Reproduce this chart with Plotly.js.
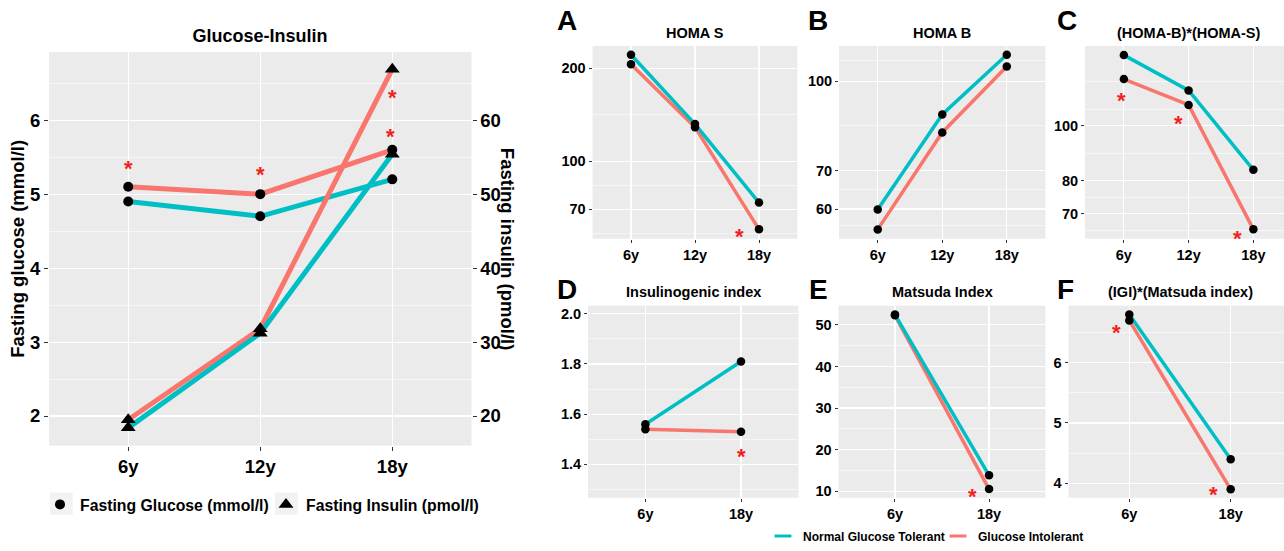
<!DOCTYPE html>
<html><head><meta charset="utf-8">
<script src="https://cdn.plot.ly/plotly-3.0.1.min.js"></script>
<style>html,body{margin:0;padding:0;background:#fff}#chart{width:1284px;height:551px}</style>
</head><body><div id="chart"></div>
<script>
// ---------- DATA ----------
const ages3 = ['6y', '12y', '18y'];
const ages2 = ['6y', '18y'];
const groups = ['Normal Glucose Tolerant', 'Glucose Intolerant'];
const measures = ['Fasting Glucose (mmol/l)', 'Fasting Insulin (pmol/l)'];

const glucoseNGT = [4.9, 4.7, 5.2];
const glucoseGI  = [5.1, 5.0, 5.6];
const insulinNGT = [18.4, 31.2, 55.4];
const insulinGI  = [19.5, 31.8, 66.9];

const homaS_NGT = [221, 132, 73.6];
const homaS_GI  = [206, 129, 60.3];
const homaB_NGT = [59.9, 87.6, 111.2];
const homaB_GI  = [55.3, 81.5, 106.1];
const homaBS_NGT = [133, 115.3, 83.6];
const homaBS_GI  = [120.7, 108.7, 65.7];
const igi_NGT = [1.56, 1.81];
const igi_GI  = [1.54, 1.53];
const matsuda_NGT = [52.5, 13.8];
const matsuda_GI  = [52.3, 10.5];
const igiMat_NGT = [6.80, 4.40];
const igiMat_GI  = [6.70, 3.90];

// significance asterisks (category, value)
const sigGlucoseAt = ['6y', '12y', '18y'];
const sigGlucoseY  = [5.41, 5.33, 5.85];
const sigInsulinAt = ['18y'];
const sigInsulinY  = [63.8];
const sigHomaSAt = ['18y'];          const sigHomaSY = [59.4];
const sigHomaBSAt = ['6y', '12y', '18y']; const sigHomaBSY = [113.1, 103.1, 64.6];
const sigIgiAt = ['18y'];            const sigIgiY = [1.45];
const sigMatsudaAt = ['18y'];        const sigMatsudaY = [9.8];
const sigIgiMatAt = ['6y', '18y'];   const sigIgiMatY = [6.58, 3.9];

// ---------- STYLE ----------
const W = 1284, H = 551;
const FONT = 'Liberation Sans, Arial, Helvetica, sans-serif';
const TEAL = '#00BFC4', RED = '#F8766D', STAR = '#EE2222', BG = '#EBEBEB';
const fx = p => p / W;
const fy = p => 1 - p / H;

const traces = [];
const annotations = [];
const layout = {
  width: W, height: H,
  margin: {l: 0, r: 0, t: 0, b: 0},
  paper_bgcolor: '#ffffff', plot_bgcolor: BG,
  font: {family: FONT, size: 14, color: '#000', weight: 'bold'},
  showlegend: true,
  title: {text: 'Glucose-Insulin', x: fx(260), xanchor: 'center', y: fy(36), yanchor: 'middle',
          font: {family: FONT, size: 18, color: '#000', weight: 'bold'}},
  shapes: [],
  annotations: annotations
};

function xAxis(dom, range, cats, fs, anchor) {
  return {domain: [fx(dom[0]), fx(dom[1])], range: range, type: 'category',
    categoryorder: 'array', categoryarray: cats, anchor: anchor,
    showgrid: true, gridcolor: '#ffffff', gridwidth: 1.1, zeroline: false, showline: false,
    ticks: 'outside', ticklen: fs > 15 ? 4 : 3, tickwidth: 1, tickcolor: '#333',
    tickfont: {family: FONT, size: fs, color: '#000', weight: 'bold'}, fixedrange: true};
}
function yAxis(dom, range, isLog, tickvals, minorvals, fs, anchor) {
  const a = {domain: [fy(dom[1]), fy(dom[0])], range: range, type: isLog ? 'log' : 'linear', anchor: anchor,
    tickmode: 'array', tickvals: tickvals, ticktext: tickvals.map(v => String(v)),
    showgrid: true, gridcolor: '#ffffff', gridwidth: 1.1, zeroline: false, showline: false,
    ticks: 'outside', ticklen: fs > 15 ? 4 : 3, tickwidth: 1, tickcolor: '#333',
    tickfont: {family: FONT, size: fs, color: '#000', weight: 'bold'}, fixedrange: true,
    minor: {tickmode: 'array', tickvals: minorvals, showgrid: true, gridcolor: '#ffffff', gridwidth: 0.55, ticks: ''}};
  return a;
}
function star(xref, yref, at, val, isLog, dx, fs) {
  annotations.push({xref: xref, yref: yref, x: at, y: isLog ? Math.log10(val) : val,
    text: '*', showarrow: false, xshift: dx, yshift: -5,
    font: {family: FONT, size: fs, color: STAR}});
}
function lineTrace(x, y, xa, ya, color, w) {
  traces.push({type: 'scatter', mode: 'lines', x: x, y: y, xaxis: xa, yaxis: ya,
    line: {color: color, width: w}, showlegend: false, hoverinfo: 'skip'});
}
function pointTrace(x, y, xa, ya, symbol, size) {
  traces.push({type: 'scatter', mode: 'markers', x: x, y: y, xaxis: xa, yaxis: ya,
    marker: {color: '#000', size: size, symbol: symbol}, showlegend: false, hoverinfo: 'skip'});
}

// ---------- MAIN PANEL ----------
layout.xaxis = xAxis([49, 471.5], [-0.6, 2.6], ages3, 18.5, 'y');
layout.yaxis = yAxis([53, 453], [1.6, 6.92], false, [2, 3, 4, 5, 6], [2.5, 3.5, 4.5, 5.5, 6.5], 18.5, 'x');
layout.yaxis.title = {text: 'Fasting glucose (mmol/l)', standoff: 0, font: {family: FONT, size: 18.5, color: '#000', weight: 'bold'}};
layout.yaxis2 = {overlaying: 'y', side: 'right', anchor: 'x', range: [16, 69.2], type: 'linear',
  tickmode: 'array', tickvals: [20, 30, 40, 50, 60], showgrid: false, zeroline: false, showline: false,
  ticks: 'outside', ticklen: 4, tickwidth: 1, tickcolor: '#333',
  tickfont: {family: FONT, size: 18.5, color: '#000', weight: 'bold'}, fixedrange: true};
annotations.push({xref: 'paper', yref: 'paper', x: fx(507), y: fy(253), text: 'Fasting insulin (pmol/l)',
  textangle: 90, showarrow: false, font: {family: FONT, size: 18.5, color: '#000', weight: 'bold'}});

lineTrace(ages3, glucoseGI, 'x', 'y', RED, 5);
lineTrace(ages3, insulinGI, 'x', 'y2', RED, 5);
lineTrace(ages3, glucoseNGT, 'x', 'y', TEAL, 5);
lineTrace(ages3, insulinNGT, 'x', 'y2', TEAL, 5);
pointTrace(ages3, glucoseGI, 'x', 'y', 'circle', 10);
pointTrace(ages3, glucoseNGT, 'x', 'y', 'circle', 10);
pointTrace(ages3, insulinGI, 'x', 'y2', 'triangle-up', 13);
pointTrace(ages3, insulinNGT, 'x', 'y2', 'triangle-up', 13);
sigGlucoseAt.forEach((c, i) => star('x', 'y', c, sigGlucoseY[i], false, c === '18y' ? -2 : 0, 22));
sigInsulinAt.forEach((c, i) => star('x', 'y2', c, sigInsulinY[i], false, 0, 22));

// ---------- SMALL PANELS ----------
const panels = [
  {n: 2, cats: ages3, ngt: homaS_NGT, gi: homaS_GI, log: true, xd: [592.6, 797.4], yd: [46.7, 242.7],
   xr: [-0.6, 2.6], yr: [1.750, 2.373], tv: [70, 100, 200], mv: [58.5, 83.7, 141.4],
   title: 'HOMA S', letter: 'A', lp: [567, 21], sigAt: sigHomaSAt, sigY: sigHomaSY, dx: [-20]},
  {n: 3, cats: ages3, ngt: homaB_NGT, gi: homaB_GI, log: true, xd: [839, 1045.5], yd: [46.7, 242.7],
   xr: [-0.6, 2.6], yr: [1.7265, 2.0615], tv: [60, 70, 100], mv: [56.2, 64.8, 83.7, 108.6],
   title: 'HOMA B', letter: 'B', lp: [818, 21], sigAt: [], sigY: [], dx: []},
  {n: 4, cats: ages3, ngt: homaBS_NGT, gi: homaBS_GI, log: true, xd: [1085, 1284], yd: [46.7, 242.7],
   xr: [-0.6, 2.473], yr: [1.801, 2.140], tv: [70, 80, 100], mv: [65.5, 74.8, 89.4, 106.6, 119.7],
   title: '(HOMA-B)*(HOMA-S)', letter: 'C', lp: [1067, 21], tcx: 1188.5,
   sigAt: sigHomaBSAt, sigY: sigHomaBSY, dx: [-2, -10, -16]},
  {n: 5, cats: ages2, ngt: igi_NGT, gi: igi_GI, log: false, xd: [588, 798.4], yd: [310.7, 506],
   xr: [-0.6, 1.6], yr: [1.2667, 2.0326], tv: [1.4, 1.6, 1.8, 2.0], mv: [1.3, 1.5, 1.7, 1.9],
   tt: ['1.4', '1.6', '1.8', '2.0'],
   title: 'Insulinogenic index', letter: 'D', lp: [567, 294], sigAt: sigIgiAt, sigY: sigIgiY, dx: [0]},
  {n: 6, cats: ages2, ngt: matsuda_NGT, gi: matsuda_GI, log: false, xd: [838.5, 1045.5], yd: [310.7, 506],
   xr: [-0.6, 1.6], yr: [8.41, 54.64], tv: [10, 20, 30, 40, 50], mv: [15, 25, 35, 45],
   title: 'Matsuda Index', letter: 'E', lp: [818, 294], sigAt: sigMatsudaAt, sigY: sigMatsudaY, dx: [-17]},
  {n: 7, cats: ages2, ngt: igiMat_NGT, gi: igiMat_GI, log: false, xd: [1068.5, 1284], yd: [310.7, 506],
   xr: [-0.6, 1.526], yr: [3.76, 6.946], tv: [4, 5, 6], mv: [4.5, 5.5, 6.5],
   title: '(IGI)*(Matsuda index)', letter: 'F', lp: [1065, 294], tcx: 1180,
   sigAt: sigIgiMatAt, sigY: sigIgiMatY, dx: [-13, -17]}
];

panels.forEach(p => {
  const xa = 'x' + p.n, ya = 'y' + (p.n + 1);
  layout['xaxis' + p.n] = xAxis(p.xd, p.xr, p.cats, 14.5, ya);
  const yax = yAxis(p.yd, p.yr, p.log, p.tv, p.mv, 14.5, xa);
  if (p.tt) yax.ticktext = p.tt;
  layout['yaxis' + (p.n + 1)] = yax;
  lineTrace(p.cats, p.gi, xa, ya, RED, 3.5);
  lineTrace(p.cats, p.ngt, xa, ya, TEAL, 3.5);
  pointTrace(p.cats, p.gi, xa, ya, 'circle', 8.5);
  pointTrace(p.cats, p.ngt, xa, ya, 'circle', 8.5);
  const tcx = p.tcx || (p.xd[0] + p.xd[1]) / 2;
  annotations.push({xref: 'paper', yref: 'paper', x: fx(tcx), y: fy(p.yd[0] - 13.5), text: p.title,
    showarrow: false, xanchor: 'center', yanchor: 'middle', font: {family: FONT, size: 14.5, color: '#000', weight: 'bold'}});
  annotations.push({xref: 'paper', yref: 'paper', x: fx(p.lp[0]), y: fy(p.lp[1]), text: p.letter,
    showarrow: false, xanchor: 'center', yanchor: 'middle', font: {family: FONT, size: 28, color: '#000', weight: 'bold'}});
  p.sigAt.forEach((c, i) => star(xa, ya, c, p.sigY[i], p.log, p.dx[i], 22));
});

// ---------- LEGENDS ----------
traces.push({type: 'scatter', mode: 'markers', x: [null], y: [null], xaxis: 'x', yaxis: 'y',
  name: measures[0], legend: 'legend', marker: {color: '#000', size: 10, symbol: 'circle'}});
traces.push({type: 'scatter', mode: 'markers', x: [null], y: [null], xaxis: 'x', yaxis: 'y',
  name: measures[1], legend: 'legend4', marker: {color: '#000', size: 13, symbol: 'triangle-up'}});
traces.push({type: 'scatter', mode: 'markers', x: [null], y: [null], xaxis: 'x', yaxis: 'y',
  name: groups[0], legend: 'legend2', marker: {color: TEAL, size: 12, symbol: 'line-ew-open', line: {color: TEAL, width: 3}}});
traces.push({type: 'scatter', mode: 'markers', x: [null], y: [null], xaxis: 'x', yaxis: 'y',
  name: groups[1], legend: 'legend3', marker: {color: RED, size: 12, symbol: 'line-ew-open', line: {color: RED, width: 3}}});

const legBase = (x, y, fs) => ({x: fx(x), xanchor: 'left', y: fy(y), yanchor: 'middle', orientation: 'h',
  bgcolor: 'rgba(0,0,0,0)', borderwidth: 0, font: {family: FONT, size: fs, color: '#000', weight: 'bold'}});
layout.legend = legBase(40, 513, 15.8);
layout.legend4 = legBase(266, 513, 15.8);
layout.legend2 = legBase(763, 545, 12);
layout.legend3 = legBase(938, 545, 12);

layout.shapes.push({type: 'rect', xref: 'paper', yref: 'paper', x0: fx(50), x1: fx(72.7), y0: fy(523.3), y1: fy(500.7),
  fillcolor: '#F2F2F2', line: {width: 0}, layer: 'below'});
layout.shapes.push({type: 'rect', xref: 'paper', yref: 'paper', x0: fx(275), x1: fx(297.7), y0: fy(523.3), y1: fy(500.7),
  fillcolor: '#F2F2F2', line: {width: 0}, layer: 'below'});

Plotly.newPlot('chart', traces, layout, {displayModeBar: false, staticPlot: true});
</script>
</body></html>
